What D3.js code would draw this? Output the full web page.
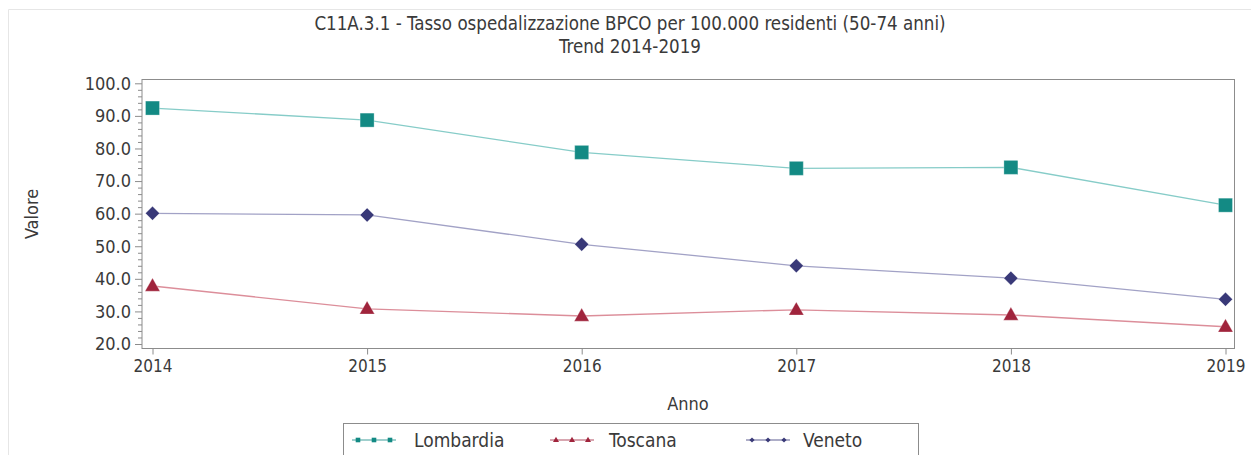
<!DOCTYPE html>
<html><head><meta charset="utf-8">
<script src="https://cdn.jsdelivr.net/npm/d3@7"></script>
<style>
html,body{margin:0;padding:0;background:#fff;}
svg{display:block;}
text{font-family:"Liberation Sans Narrow","DejaVu Sans Condensed",sans-serif;fill:#3a3a3a;}
</style></head>
<body>
<script>
const years = [2014, 2015, 2016, 2017, 2018, 2019];
const lombardia = [92.4, 88.7, 78.8, 73.9, 74.2, 62.6];
const toscana = [37.8, 30.8, 28.6, 30.5, 28.9, 25.3];
const veneto = [60.1, 59.6, 50.6, 44.0, 40.2, 33.7];
const yTicks = [20, 30, 40, 50, 60, 70, 80, 90, 100];
const seriesNames = ["Lombardia", "Toscana", "Veneto"];
const titleLines = ["C11A.3.1 - Tasso ospedalizzazione BPCO per 100.000 residenti (50-74 anni)", "Trend 2014-2019"];

const series = [
  {name: seriesNames[0], values: lombardia, mk: "#138a84", ln: "#86ccc8", sym: "square"},
  {name: seriesNames[1], values: toscana, mk: "#a0243c", ln: "#dc8e9a", sym: "triangle"},
  {name: seriesNames[2], values: veneto, mk: "#393978", ln: "#a2a2c6", sym: "diamond"}
];

const W = 1251, H = 455;
const svg = d3.select("body").append("svg").attr("width", W).attr("height", H);

svg.append("path").attr("d", `M8.5,${H} L8.5,9.5 L${W},9.5`).attr("fill", "none").attr("stroke", "#e6e6e6");

const L = 142, R = 1234.5, T = 79.5, B = 348.5;
const x = d3.scaleLinear().domain([2014, 2019]).range([152.5, 1225.5]);
const y = d3.scaleLinear().domain([20, 100]).range([344, 83.3]);

svg.append("rect").attr("x", L).attr("y", T).attr("width", R - L).attr("height", B - T)
  .attr("fill", "none").attr("stroke", "#8c8c8c").attr("stroke-width", 1);

const yAxis = d3.axisLeft(y).tickValues(yTicks).tickFormat(d3.format(".1f")).tickSize(7).tickPadding(4);
const gy = svg.append("g").attr("transform", `translate(${L},0)`).call(yAxis);
gy.select(".domain").remove();
gy.selectAll("line").attr("stroke", "#8c8c8c");
gy.selectAll("text").style("font-size", "18px").attr("fill", "#444");
const minor = d3.range(20, 100.01, 2).filter(v => v % 10 !== 0);
const gym = svg.append("g").attr("transform", `translate(${L},0)`)
  .call(d3.axisLeft(y).tickValues(minor).tickSize(4).tickFormat(""));
gym.select(".domain").remove();
gym.selectAll("line").attr("stroke", "#8c8c8c");

const xAxis = d3.axisBottom(x).tickValues(years).tickFormat(d3.format("d")).tickSize(6).tickPadding(5);
const gx = svg.append("g").attr("transform", `translate(0,${B})`).call(xAxis);
gx.select(".domain").remove();
gx.selectAll("line").attr("stroke", "#8c8c8c");
gx.selectAll("text").style("font-size", "17px").attr("fill", "#444");

svg.append("text").attr("x", 688).attr("y", 410).attr("text-anchor", "middle").style("font-size", "18px").text("Anno");
svg.append("text").attr("transform", "translate(38,214) rotate(-90)").attr("text-anchor", "middle").style("font-size", "18px").text("Valore");

svg.append("text").attr("x", 630).attr("y", 30).attr("text-anchor", "middle").style("font-size", "18.6px").text(titleLines[0]);
svg.append("text").attr("x", 630).attr("y", 53).attr("text-anchor", "middle").style("font-size", "18.6px").text(titleLines[1]);

function symPath(type, r) {
  if (type === "diamond") return `M0,${-r}L${r},0L0,${r}L${-r},0Z`;
  if (type === "square") return `M${-r},${-r}H${r}V${r}H${-r}Z`;
  const h = r * 1.75;
  return `M0,${-h * 0.6}L${r},${h * 0.4}L${-r},${h * 0.4}Z`;
}
const symR = {square: 7, triangle: 7.5, diamond: 7};

const line = d3.line().x((d, i) => x(years[i])).y(d => y(d));
series.forEach(s => {
  svg.append("path").attr("d", line(s.values)).attr("fill", "none").attr("stroke", s.ln).attr("stroke-width", 1.3);
  svg.selectAll(null).data(s.values).enter().append("path")
    .attr("d", symPath(s.sym, symR[s.sym]))
    .attr("transform", (d, i) => `translate(${x(years[i])},${y(d)})`)
    .attr("fill", s.mk).attr("stroke", "#fff").attr("stroke-width", 0.6).attr("stroke-opacity", 0.5);
});

svg.append("rect").attr("x", 343.5).attr("y", 423.5).attr("width", 575).attr("height", 40)
  .attr("fill", "none").attr("stroke", "#8c8c8c");
const legX = [352, 550, 746];
const legTextX = [414, 609, 803];
const smallR = {square: 2.3, triangle: 3, diamond: 2.6};
series.forEach((s, i) => {
  const ly = 440;
  svg.append("line").attr("x1", legX[i]).attr("x2", legX[i] + 44).attr("y1", ly).attr("y2", ly)
    .attr("stroke", s.mk).attr("stroke-width", 1.2).attr("opacity", 0.8);
  [0, 1, 2].forEach(k => {
    svg.append("path").attr("d", symPath(s.sym, smallR[s.sym]))
      .attr("transform", `translate(${legX[i] + 6 + k * 16},${ly})`).attr("fill", s.mk);
  });
  svg.append("text").attr("x", legTextX[i]).attr("y", 447).style("font-size", "19px").text(s.name);
});
</script>
</body></html>
